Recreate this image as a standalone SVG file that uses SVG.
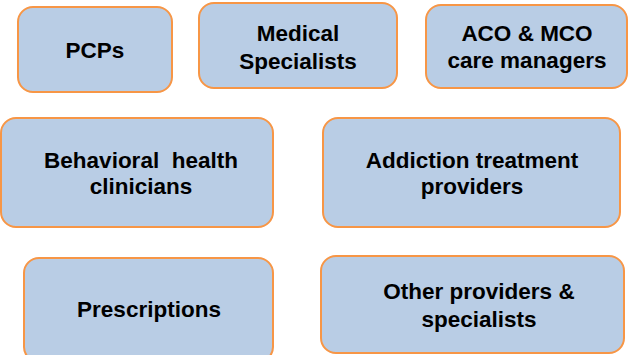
<svg xmlns="http://www.w3.org/2000/svg" width="629" height="355" viewBox="0 0 629 355">
<style>
.box{fill:#B9CDE5;stroke:#F79646;stroke-width:2}
.t{font-family:"Liberation Sans",Arial,sans-serif;font-weight:bold;font-size:22.5px;fill:#000;text-anchor:middle}
</style>
<rect width="629" height="355" fill="#fff"/>
<g id="pcps"><rect class="box" x="18" y="7" width="154" height="85" rx="15"/><text class="t" x="95" y="58">PCPs</text></g>
<g id="medical"><rect class="box" x="199" y="3" width="198" height="85" rx="15"/><text class="t" x="298" y="41">Medical</text><text class="t" x="298" y="69">Specialists</text></g>
<g id="aco"><rect class="box" x="426" y="5" width="201" height="83" rx="15"/><text class="t" x="527" y="41">ACO &amp; MCO</text><text class="t" x="527" y="68">care managers</text></g>
<g id="behavioral"><rect class="box" x="1" y="118" width="272" height="109" rx="15"/><text class="t" x="141" y="168" xml:space="preserve">Behavioral  health</text><text class="t" x="141" y="194">clinicians</text></g>
<g id="addiction"><rect class="box" x="323" y="118" width="297" height="109" rx="15"/><text class="t" x="472" y="168">Addiction treatment</text><text class="t" x="472" y="194">providers</text></g>
<g id="prescriptions"><rect class="box" x="24" y="258" width="249" height="104" rx="15"/><text class="t" x="149" y="317">Prescriptions</text></g>
<g id="other"><rect class="box" x="321" y="256" width="303" height="97" rx="15"/><text class="t" x="479" y="299">Other providers &amp;</text><text class="t" x="479" y="327">specialists</text></g>
<g id="connectors"></g>
</svg>
